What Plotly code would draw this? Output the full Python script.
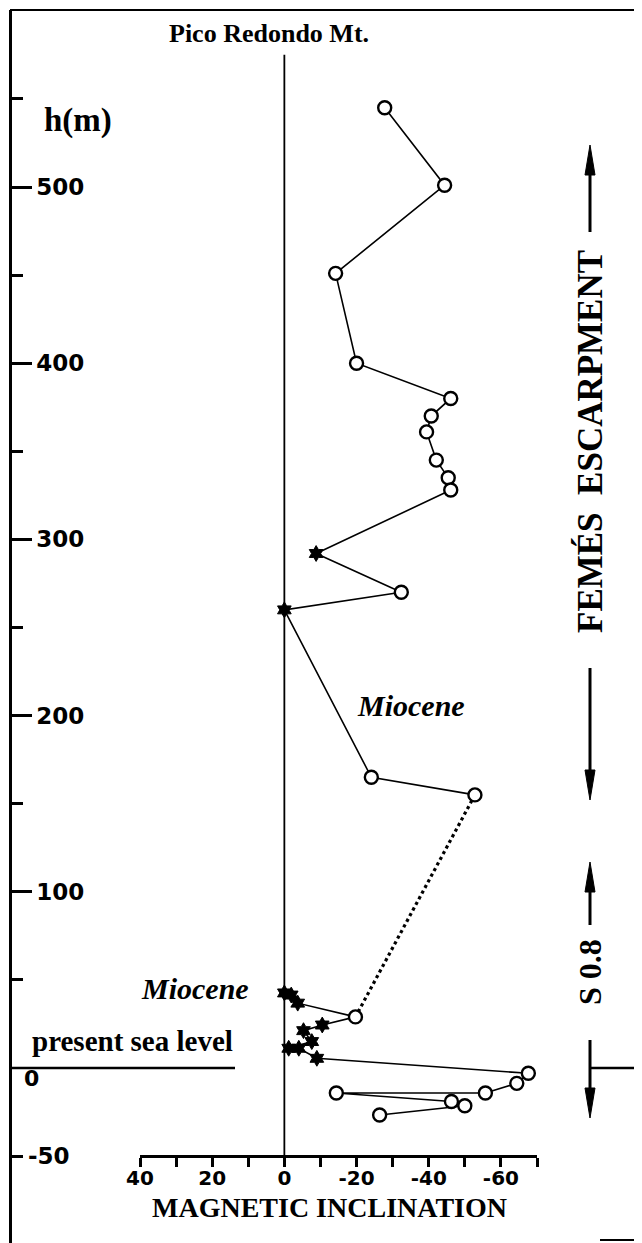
import plotly.graph_objects as go

W, H = 642, 1243
OFF = 8  # the page body margin shifts the figure by this many pixels

# ---- data ----
upper_h = [545, 501, 451, 400, 380, 370, 361, 345, 335, 328, 292, 270, 260, 165, 155]
upper_inc = [-27.8, -44.4, -14.2, -20.0, -46.1, -40.7, -39.4, -42.1, -45.4, -46.1, -8.8, -32.4, 0.0, -24.1, -52.8]
upper_sym = ["o", "o", "o", "o", "o", "o", "o", "o", "o", "o", "*", "o", "*", "o", "o"]

lower_h = [42.6, 41.4, 36.8, 29.0, 24.4, 21.2, 15.0, 11.2, 11.2, 5.5, -3.0, -8.7, -14.2, -14.2, -19.0, -21.4, -26.7]
lower_inc = [0.0, -1.9, -3.7, -19.7, -10.5, -5.3, -7.6, -1.2, -4.0, -9.0, -67.6, -64.4, -55.7, -14.4, -46.3, -50.0, -26.4]
lower_sym = ["*", "*", "*", "o", "*", "*", "*", "*", "*", "*", "o", "o", "o", "o", "o", "o", "o"]

x_ticks = [40, 30, 20, 10, 0, -10, -20, -30, -40, -50, -60, -70]
x_ticklabels = ["40", "", "20", "", "0", "", "-20", "", "-40", "", "-60", ""]
y_ticks = [100, 200, 300, 400, 500]
y_ticklabels = ["100", "200", "300", "400", "500"]
y_minor = [-50, 50, 150, 250, 350, 450, 550]


def X(px):
    return (px - OFF) / W


def Y(py):
    return 1 - (py - OFF) / H


SERIF = "Liberation Serif, Times New Roman, serif"
SANS = "DejaVu Sans, Arial, sans-serif"

fig = go.Figure()

# profile lines
fig.add_trace(go.Scatter(x=upper_inc, y=upper_h, mode="lines",
                         line=dict(color="black", width=1.6), hoverinfo="skip"))
fig.add_trace(go.Scatter(x=[upper_inc[-1], lower_inc[3]], y=[upper_h[-1], lower_h[3]], mode="lines",
                         line=dict(color="black", width=3.2, dash="dot"), hoverinfo="skip"))
fig.add_trace(go.Scatter(x=lower_inc, y=lower_h, mode="lines",
                         line=dict(color="black", width=1.6), hoverinfo="skip"))

all_h = upper_h + lower_h
all_inc = upper_inc + lower_inc
all_sym = upper_sym + lower_sym
cx = [v for v, s in zip(all_inc, all_sym) if s == "o"]
cy = [h for h, s in zip(all_h, all_sym) if s == "o"]
sx = [v for v, s in zip(all_inc, all_sym) if s == "*"]
sy = [h for h, s in zip(all_h, all_sym) if s == "*"]

fig.add_trace(go.Scatter(x=cx, y=cy, mode="markers",
                         marker=dict(symbol="circle", size=13, color="white",
                                     line=dict(color="black", width=2.4)),
                         cliponaxis=False, hoverinfo="skip"))
fig.add_trace(go.Scatter(x=sx, y=sy, mode="markers",
                         marker=dict(symbol="hexagram", size=12, color="black",
                                     line=dict(color="black", width=1)),
                         cliponaxis=False, hoverinfo="skip"))

shapes = []
# frame top line
shapes.append(dict(type="line", xref="paper", yref="paper", x0=X(10), x1=X(650), y0=Y(10), y1=Y(10),
                   line=dict(color="black", width=2.2)))
# small frame stub at bottom right
shapes.append(dict(type="line", xref="paper", yref="paper", x0=X(600), x1=X(650), y0=Y(1240), y1=Y(1240),
                   line=dict(color="black", width=2)))
# vertical zero-inclination line
shapes.append(dict(type="line", xref="x", yref="y", x0=0, x1=0, y0=-50, y1=575,
                   line=dict(color="black", width=1.8)))
# present sea level lines
shapes.append(dict(type="line", xref="paper", yref="y", x0=X(10), x1=X(235), y0=0, y1=0,
                   line=dict(color="black", width=2.4)))
shapes.append(dict(type="line", xref="paper", yref="y", x0=X(590), x1=X(650), y0=0, y1=0,
                   line=dict(color="black", width=2.4)))


def arrow(xc, tail, tip):
    direction = 1 if tip > tail else -1
    hl = 30
    base = tip - direction * hl
    shapes.append(dict(type="line", xref="paper", yref="paper", x0=X(xc), x1=X(xc), y0=Y(tail), y1=Y(base),
                       line=dict(color="black", width=3)))
    path = "M {} {} L {} {} L {} {} Z".format(X(xc - 5), Y(base), X(xc), Y(tip), X(xc + 5), Y(base))
    shapes.append(dict(type="path", xref="paper", yref="paper", path=path,
                       fillcolor="black", line=dict(color="black", width=1)))


arrow(590, 232, 145)
arrow(590, 668, 800)
arrow(590, 925, 862)
arrow(590, 1040, 1118)

annotations = []


def text(px, py, s, size, angle=0, italic=False, family=SERIF):
    t = "<b>" + s + "</b>"
    if italic:
        t = "<i>" + t + "</i>"
    annotations.append(dict(xref="paper", yref="paper", x=X(px), y=Y(py), text=t, showarrow=False,
                            textangle=angle, xanchor="center", yanchor="middle",
                            font=dict(family=family, size=size, color="black")))


text(269, 33, "Pico Redondo Mt.", 26)
text(78, 120, "h(m)", 33)
text(411, 705, "Miocene", 30, italic=True)
text(195, 988, "Miocene", 30, italic=True)
text(132, 1041, "present sea level", 29)
text(590, 442, "FEMÉS  ESCARPMENT", 35, angle=-90)
text(590, 972, "S 0.8", 32, angle=-90)
text(330, 1207, "MAGNETIC INCLINATION", 28)
text(32, 1078, "0", 22, family=SANS)
text(49, 1156, "-50", 23, family=SANS)

fig.update_layout(
    width=W, height=H, margin=dict(l=0, r=0, t=0, b=0, autoexpand=False),
    paper_bgcolor="white", plot_bgcolor="white", showlegend=False,
    shapes=shapes, annotations=annotations,
    xaxis=dict(domain=[X(140), X(537)], range=[40, -70], anchor="free", position=Y(1156),
               automargin=False,
               showline=True, linewidth=2.5, linecolor="black", mirror=False,
               ticks="outside", ticklen=9, tickwidth=2.5, tickcolor="black",
               tickmode="array", tickvals=x_ticks, ticktext=x_ticklabels,
               ticklabelstandoff=-6,
               tickfont=dict(family=SANS, size=20, color="black", weight="bold"),
               showgrid=False, zeroline=False),
    yaxis=dict(domain=[0, Y(10)], range=[(1068 - (H + OFF)) / 1.762, (1068 - 10) / 1.762],
               anchor="free", position=X(10),
               automargin=False,
               showline=True, linewidth=2.5, linecolor="black",
               ticks="inside", ticklen=20, tickwidth=2.5, tickcolor="black",
               tickmode="array", tickvals=y_ticks, ticktext=y_ticklabels,
               ticklabelposition="inside", ticklabelstandoff=6,
               tickfont=dict(family=SANS, size=23, color="black", weight="bold"),
               minor=dict(tickvals=y_minor, ticklen=11, tickwidth=2.5, tickcolor="black", ticks="inside"),
               showgrid=False, zeroline=False),
)

fig.write_html("out.html")
